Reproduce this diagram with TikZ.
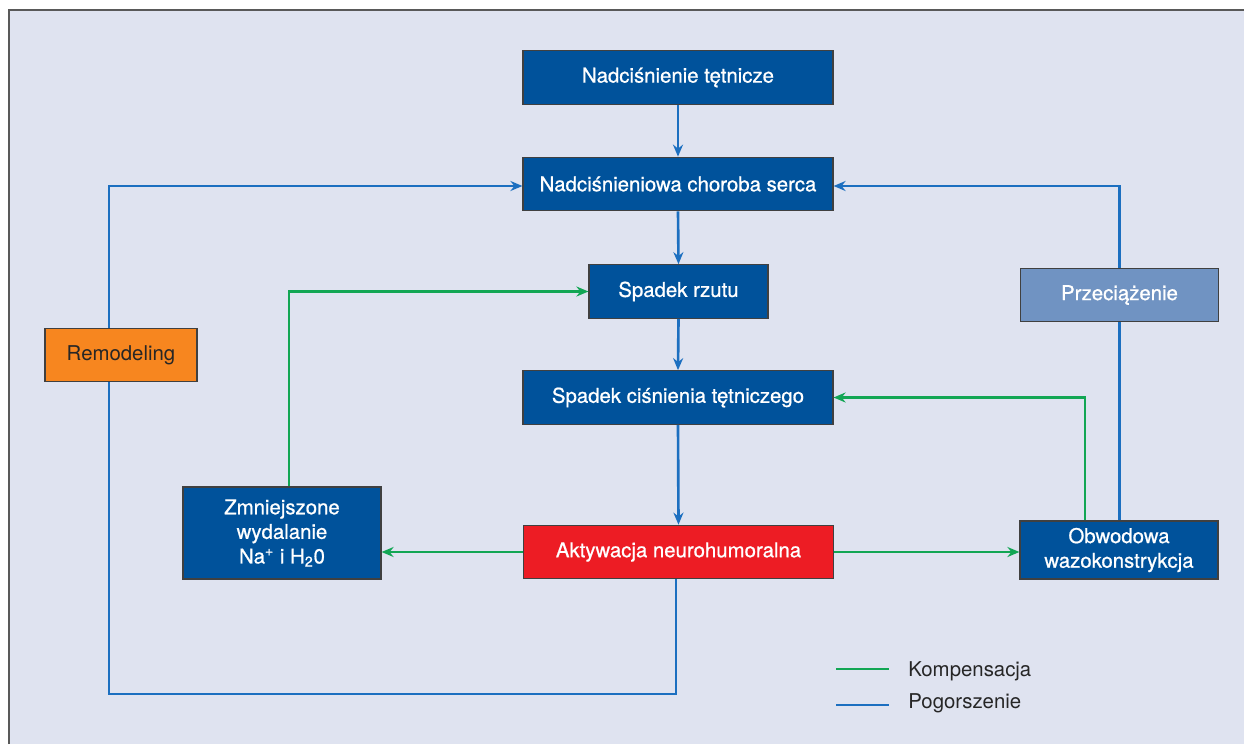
\documentclass[tikz,border=0pt]{standalone}
\usepackage{fontspec}
\setmainfont{TeX Gyre Heros}
\newfontfamily\boxfont{TeX Gyre Heros}[FakeBold=0.8]
\usepackage{tikz}
\usetikzlibrary{positioning,arrows.meta}

\definecolor{boxblue}{HTML}{00529B}
\definecolor{lightbox}{HTML}{7093C2}
\definecolor{redbox}{HTML}{ED1C24}
\definecolor{orangebox}{HTML}{F7861F}
\definecolor{bgpanel}{HTML}{DFE3F0}
\definecolor{lineblue}{HTML}{1C6FC0}
\definecolor{linegreen}{HTML}{12A654}

\begin{document}
\begin{tikzpicture}[
    x=0.02cm, y=-0.02cm,
    every node/.style={font=\fontsize{11.6}{14}\selectfont},
    box/.style={rectangle, draw=black!75, line width=0.7pt, fill=boxblue, text=white,
        font=\boxfont\fontsize{11.6}{14}\selectfont,
        align=center, minimum height=1.07cm, inner sep=2pt},
    widebox/.style={box, minimum width=6.2cm},
    sidebox/.style={box, minimum width=3.96cm},
    legtext/.style={anchor=west, text=black!85, inner sep=0pt}
    ]
        %Panel
        \useasboundingbox (0,0) rectangle (1244,744);
        \fill[white] (0,0) rectangle (1244,744);
        \fill[bgpanel] (9,10) rectangle (1244,744);
        \draw[black!65, line width=1.3pt] (9,744) -- (9,10) -- (1244,10);

        %Nodes
        \node[widebox]
            (ht)    at (678,77.5)   {Nadciśnienie tętnicze};
        \node[widebox]
            (hcs)   at (678,184)    {Nadciśnieniowa choroba serca};
        \node[box, minimum width=3.58cm]
            (rzut)  at (678.5,291.5) {Spadek rzutu};
        \node[widebox]
            (cis)   at (678,397.5)  {Spadek ciśnienia tętniczego};
        \node[widebox, fill=redbox]
            (akt)   at (678.5,552)  {Aktywacja neurohumoralna};
        \node[sidebox, minimum height=1.84cm]
            (zmn)   at (282,533)    {Zmniejszone\\wydalanie\\Na\textsuperscript{+} i H\textsubscript{2}0};
        \node[sidebox, minimum height=1.16cm]
            (obw)   at (1119,550)   {Obwodowa\\wazokonstrykcja};
        \node[sidebox, fill=lightbox]
            (prz)   at (1119.5,295) {Przeciążenie};
        \node[box, minimum width=3.04cm, fill=orangebox, text=black!85,
              font=\fontsize{11.6}{14}\selectfont]
            (rem)   at (121,355)    {Remodeling};
        \coordinate (lb) at (109,694);

        %Lines
        \draw[->, >={Stealth[length=0.24cm, width=0.2cm]}, draw=lineblue, line width=1.5pt]
            (ht.south) -- (hcs.north);
        \draw[->, >={Stealth[length=0.24cm, width=0.2cm]}, draw=lineblue, line width=1.5pt]
            (hcs.south) -- (rzut.north);
        \draw[->, >={Stealth[length=0.24cm, width=0.2cm]}, draw=lineblue, line width=1.5pt]
            (rzut.south) -- (cis.north);
        \draw[->, >={Stealth[length=0.24cm, width=0.2cm]}, draw=lineblue, line width=1.5pt]
            (cis.south) -- (akt.north);
        \draw[draw=lineblue, line width=1.5pt]
            ([xshift=-0.05cm]akt.south) |- (lb) -- (lb |- rem.south);
        \draw[->, >={Stealth[length=0.24cm, width=0.2cm]}, draw=lineblue, line width=1.5pt]
            (rem.north -| lb) |- ([yshift=-0.04cm]hcs.west);
        \draw[draw=lineblue, line width=1.5pt]
            (obw.north -| prz.south) -- (prz.south);
        \draw[->, >={Stealth[length=0.24cm, width=0.2cm]}, draw=lineblue, line width=1.5pt]
            (prz.north) |- ([yshift=-0.04cm]hcs.east);
        \draw[->, >={Stealth[length=0.24cm, width=0.2cm]}, draw=linegreen, line width=1.5pt]
            ([xshift=-0.68cm]obw.north) |- (cis.east);
        \draw[->, >={Stealth[length=0.24cm, width=0.2cm]}, draw=linegreen, line width=1.5pt]
            ([xshift=0.14cm]zmn.north) |- (rzut.west);
        \draw[->, >={Stealth[length=0.24cm, width=0.2cm]}, draw=linegreen, line width=1.5pt]
            (akt.west) -- (akt.west -| zmn.east);
        \draw[->, >={Stealth[length=0.24cm, width=0.2cm]}, draw=linegreen, line width=1.5pt]
            (akt.east) -- (akt.east -| obw.west);

        %Legend
        \node[legtext] (komp) at (908,671) {Kompensacja};
        \node[legtext] (pog)  at (908,703) {Pogorszenie};
        \draw[draw=linegreen, line width=1.5pt] (836,669) -- (889,669);
        \draw[draw=lineblue, line width=1.5pt] (836,705) -- (889,705);
    \end{tikzpicture}
\end{document}
